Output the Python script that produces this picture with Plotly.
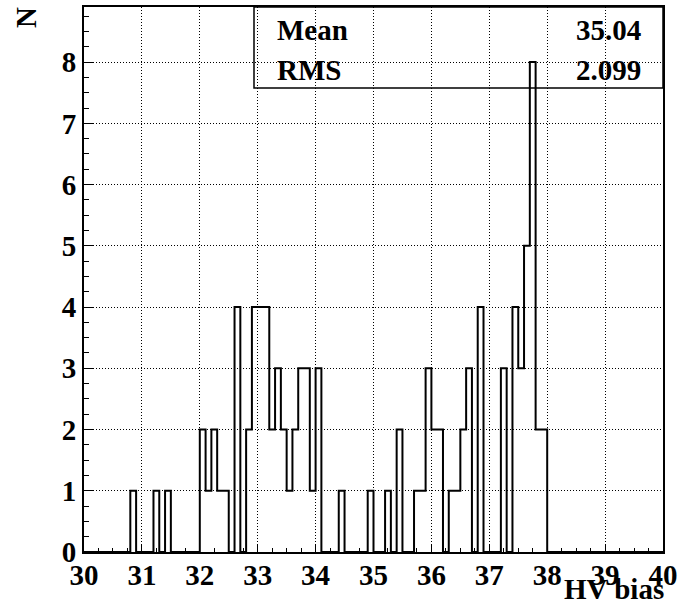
import numpy as np
import plotly.graph_objects as go

# Histogram: 100 bins of width 0.1 from 30 to 40
x_min = 30.0
x_max = 40.0
n_bins = 100
counts = [0, 0, 0, 0, 0, 0, 0, 0, 1, 0,
          0, 0, 1, 0, 1, 0, 0, 0, 0, 0,
          2, 1, 2, 1, 1, 0, 4, 0, 2, 4,
          4, 4, 2, 3, 2, 1, 2, 3, 3, 1,
          3, 0, 0, 0, 1, 0, 0, 0, 0, 1,
          0, 0, 1, 0, 2, 0, 0, 1, 1, 3,
          2, 2, 0, 1, 1, 2, 3, 0, 4, 0,
          0, 0, 3, 0, 4, 3, 5, 8, 2, 2,
          0, 0, 0, 0, 0, 0, 0, 0, 0, 0,
          0, 0, 0, 0, 0, 0, 0, 0, 0, 0]
stat_labels = ["Mean", "RMS"]
stat_values = ["35.04", "2.099"]
x_title = "HV bias"
y_title = "N"
y_max = 8.9

edges = np.linspace(x_min, x_max, n_bins + 1)
step_y = list(counts) + [0]

FONT = "Liberation Serif"

fig = go.Figure()
fig.add_trace(go.Scatter(
    x=edges, y=step_y, mode="lines", line_shape="hv",
    line=dict(color="black", width=2), showlegend=False, hoverinfo="skip"))

axis_common = dict(
    showline=True, linecolor="black", linewidth=2, mirror=True,
    showgrid=True, gridcolor="black", gridwidth=1, griddash="1px,2px",
    zeroline=False, ticks="inside", tickcolor="black", tickwidth=1,
    tickfont=dict(family=FONT, size=29, color="black", weight="bold"),
)

fig.update_xaxes(range=[x_min, x_max], dtick=1, tick0=30, ticklen=8,
                 ticklabelstandoff=-4, automargin=False,
                 minor=dict(dtick=0.25, ticks="inside", ticklen=4,
                            tickcolor="black", showgrid=False),
                 **axis_common)
fig.update_yaxes(range=[0, y_max], dtick=1, tick0=0, ticklen=9,
                 ticklabelstandoff=0, automargin=False,
                 minor=dict(dtick=0.25, ticks="inside", ticklen=5,
                            tickcolor="black", showgrid=False),
                 **axis_common)

L, R, T, B = 84, 16, 7, 48
W, H = 679, 600
pw, ph = W - L - R, H - T - B

def px2x(px):
    return (px - L) / pw

def py2y(py):
    return (H - B - py) / ph

# stats box
fig.add_shape(type="rect", xref="paper", yref="paper",
              x0=px2x(254), x1=1, y0=py2y(88), y1=1,
              line=dict(color="black", width=1.5), fillcolor="rgba(0,0,0,0)")

annots = []
for i, (lab, val) in enumerate(zip(stat_labels, stat_values)):
    yc = py2y(30 + 40 * i)
    annots.append(dict(text=lab, x=px2x(275), y=yc, xref="paper", yref="paper",
                       xanchor="left", yanchor="middle", showarrow=False,
                       font=dict(family=FONT, size=29, color="black", weight="bold")))
    annots.append(dict(text=val, x=px2x(643), y=yc, xref="paper", yref="paper",
                       xanchor="right", yanchor="middle", showarrow=False,
                       font=dict(family=FONT, size=29, color="black", weight="bold")))

annots.append(dict(text=x_title, x=px2x(666), y=py2y(589), xref="paper", yref="paper",
                   xanchor="right", yanchor="middle", showarrow=False,
                   font=dict(family=FONT, size=29, color="black", weight="bold")))
annots.append(dict(text=y_title, x=px2x(26), y=py2y(18), xref="paper", yref="paper",
                   xanchor="center", yanchor="middle", showarrow=False, textangle=-90,
                   font=dict(family=FONT, size=29, color="black", weight="bold")))

fig.update_layout(
    width=W, height=H,
    margin=dict(l=L, r=R, t=T, b=B, pad=0),
    paper_bgcolor="white", plot_bgcolor="white",
    annotations=annots, showlegend=False,
)

fig.write_html("out.html")
